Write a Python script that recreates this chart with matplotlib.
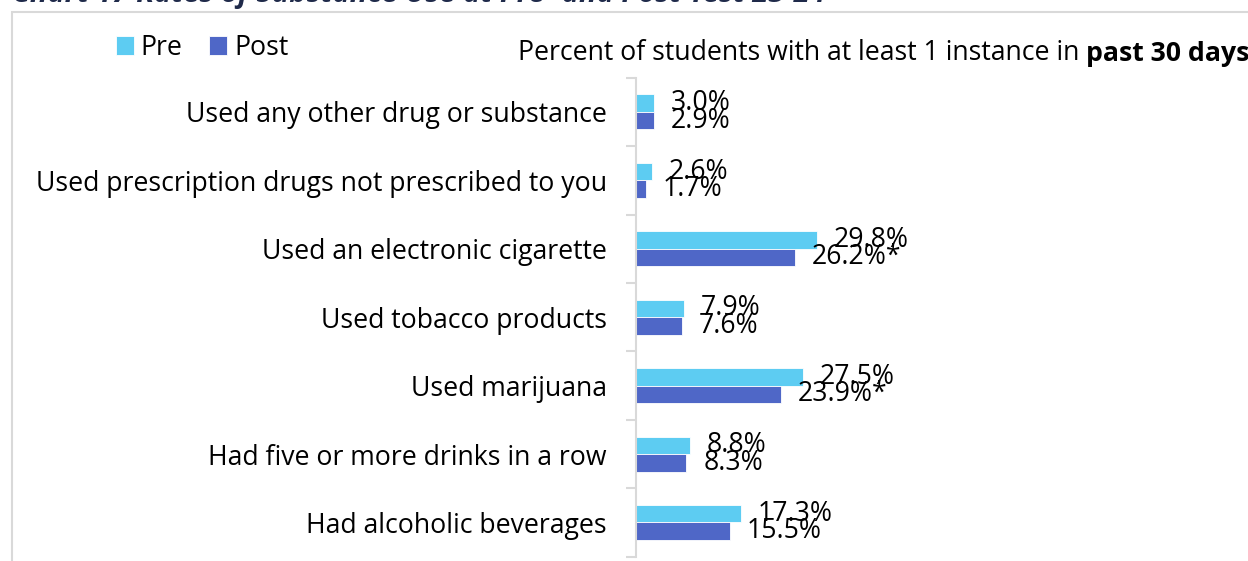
import numpy as np
import matplotlib.pyplot as plt
from matplotlib.patches import Rectangle

plt.rcParams['font.family'] = ['Open Sans', 'DejaVu Sans']

categories = ['Used any other drug or substance',
              'Used prescription drugs not prescribed to you',
              'Used an electronic cigarette',
              'Used tobacco products',
              'Used marijuana',
              'Had five or more drinks in a row',
              'Had alcoholic beverages']
pre = [3.0, 2.6, 29.8, 7.9, 27.5, 8.8, 17.3]
post = [2.9, 1.7, 26.2, 7.6, 23.9, 8.3, 15.5]
post_sig = [False, False, True, False, True, False, False]

pre_color = '#5DCCF2'
post_color = '#4F67C7'
grey = '#D9D9D9'
fs = 19.2

fig = plt.figure(figsize=(12.48, 5.61), dpi=100)
ax = fig.add_axes([636 / 1248, 1 - 556.7 / 561, 612 / 1248, 479 / 561])

n = len(categories)
ind = np.arange(n)[::-1]  # first category at the top
h = 0.255

ax.barh(ind + h / 2, pre, height=h, color=pre_color, edgecolor='white', linewidth=0.6, label='Pre')
ax.barh(ind - h / 2, post, height=h, color=post_color, edgecolor='white', linewidth=0.6, label='Post')

for i in range(n):
    ax.annotate('{0:.1f}%'.format(pre[i]), (pre[i], ind[i] + h / 2), xytext=(12, 0),
                textcoords='offset points', ha='left', va='center', fontsize=fs)
    lab = '{0:.1f}%'.format(post[i]) + ('*' if post_sig[i] else '')
    ax.annotate(lab, (post[i], ind[i] - h / 2), xytext=(12, 0),
                textcoords='offset points', ha='left', va='center', fontsize=fs)

ax.set_xlim(0, 100.6)
ax.set_ylim(-0.5, n - 0.5)
ax.set_yticks(ind)
ax.set_yticklabels(categories, fontsize=fs)
ax.tick_params(axis='y', which='major', length=0, pad=21)
ax.set_yticks(np.arange(-0.5, n, 1.0), minor=True)
ax.tick_params(axis='y', which='minor', length=7.2, color=grey, width=1.5)
ax.set_xticks([])
for s in ['top', 'right', 'bottom']:
    ax.spines[s].set_visible(False)
ax.spines['left'].set_color(grey)
ax.spines['left'].set_linewidth(1.5)

# legend
ax.legend(loc='upper left', bbox_to_anchor=(116 / 1248, 1 - 34 / 561), bbox_transform=fig.transFigure,
          ncol=2, frameon=False, fontsize=fs, handlelength=0.68, handleheight=0.68,
          handletextpad=0.25, columnspacing=1.0, borderaxespad=0, borderpad=0)

# subtitle with bold tail
t1 = fig.text(518 / 1248, 1 - 53 / 561, 'Percent of students with at least 1 instance in ',
              fontsize=fs, ha='left', va='center')
ax.annotate('past 30 days', xy=(1, 0), xycoords=t1, ha='left', va='bottom',
            fontsize=fs, fontweight='bold', annotation_clip=False)

# frame and cut-off title
fig.patches.append(Rectangle((12 / 1248, -0.1), 1.2, (1 - 12 / 561) + 0.1, transform=fig.transFigure,
                             fill=False, edgecolor=grey, linewidth=1.5))
fig.text(12 / 1248, 1 + 5 / 561, 'Chart 17 Rates of Substance Use at Pre- and Post-Test 23-24',
         fontsize=21, fontweight='bold', style='italic', color='#1F2A4A', ha='left', va='center')

fig.savefig('out.png', dpi=100)
